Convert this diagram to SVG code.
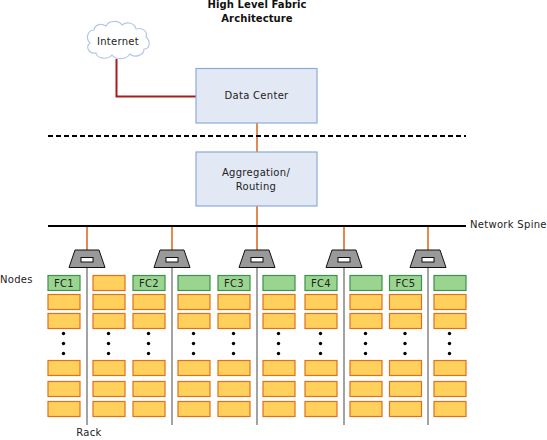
<svg xmlns="http://www.w3.org/2000/svg" xmlns:xlink="http://www.w3.org/1999/xlink" width="547" height="440" viewBox="0 0 547 440">
<style>
text{font-family:"DejaVu Sans",Verdana,sans-serif;font-size:10px;letter-spacing:.3px;fill:#222;text-anchor:middle}
.t{font-weight:bold;fill:#111;letter-spacing:.1px}
.l{text-anchor:start}
.box{fill:#e2e9f5;stroke:#8eaadb;stroke-width:1.2}
.or{fill:#ffd05c;stroke:#e0701c;stroke-width:1.2}
.gr{fill:#9ad58f;stroke:#3f8f4f;stroke-width:1.2}
.c{fill:none;stroke:#d8641a;stroke-width:1.5}
.rack{fill:none;stroke:#8c8c8c;stroke-width:1.6}
.sw{fill:#999;stroke:#111;stroke-width:1}
.win{fill:#fff;stroke:#111;stroke-width:1}
.d{fill:#000}
</style>
<defs>
<g id="stack">
<rect class="or" x="0" y="19" width="32" height="15"/>
<rect class="or" x="0" y="38" width="32" height="15"/>
<circle class="d" cx="15.5" cy="58" r="1.7"/>
<circle class="d" cx="15.5" cy="68" r="1.7"/>
<circle class="d" cx="15.5" cy="78" r="1.7"/>
<rect class="or" x="0" y="85" width="32" height="15"/>
<rect class="or" x="0" y="106" width="32" height="15"/>
<rect class="or" x="0" y="126" width="32" height="15"/>
</g>
<g id="switch">
<path class="sw" d="M-12 250H12L18 267.5H-18Z"/>
<rect class="win" x="-6" y="257.5" width="12" height="4.5"/>
</g>
</defs>
<text class="t" x="257" y="8">High Level Fabric</text>
<text class="t" x="257" y="22">Architecture</text>
<g id="connectors">
<path d="M116.5 59V96.5H196" fill="none" stroke="#a81c1c" stroke-width="2"/>
<path class="c" d="M257 123V152M257 206V226M87 226V250M172 226V250M344 226V250M428 226V250M257 226V250"/>
<path d="M48 136H466" fill="none" stroke="#000" stroke-width="2" stroke-dasharray="5 3"/>
<path d="M48 226H466" fill="none" stroke="#000" stroke-width="2"/>
<path class="rack" d="M87 267V425M172 267V425M257 267V425M344 267V425M428 267V425"/>
</g>
<g id="internet">
<path d="M94 30C95 24 102 23 106 26C109 20 119 20 122 25C127 21 135 23 136 29C143 27 148 32 146 37C151 41 150 49 144 49C144 56 134 58 130 54C126 60 116 60 112 55C108 60 97 59 96 53C89 54 85 47 90 43C85 38 88 30 94 30Z" fill="#fff" stroke="#b4c7e7" stroke-width="1.2"/>
<text x="118" y="45">Internet</text>
</g>
<g id="data-center"><rect class="box" x="196" y="68.5" width="121" height="54.5"/><text x="256.500" y="98.500">Data Center</text></g>
<g id="aggregation"><rect class="box" x="196" y="152" width="121" height="54"/><text x="256" y="176">Aggregation/</text><text x="256" y="189.500">Routing</text></g>
<g id="switches">
<use xlink:href="#switch" x="87"/><use xlink:href="#switch" x="172"/><use xlink:href="#switch" x="257"/><use xlink:href="#switch" x="344"/><use xlink:href="#switch" x="428"/>
</g>
<g id="rack1">
<rect class="gr" x="48" y="275.500" width="32" height="15"/><text x="64" y="287">FC1</text><use xlink:href="#stack" x="48" y="275.500"/>
<rect class="or" x="93" y="275.500" width="32" height="15"/><use xlink:href="#stack" x="93" y="275.500"/>
</g>
<g id="rack2">
<rect class="gr" x="133" y="275.500" width="32" height="15"/><text x="149" y="287">FC2</text><use xlink:href="#stack" x="133" y="275.500"/>
<rect class="gr" x="178" y="275.500" width="32" height="15"/><use xlink:href="#stack" x="178" y="275.500"/>
</g>
<g id="rack3">
<rect class="gr" x="218" y="275.500" width="32" height="15"/><text x="234" y="287">FC3</text><use xlink:href="#stack" x="218" y="275.500"/>
<rect class="gr" x="263" y="275.500" width="32" height="15"/><use xlink:href="#stack" x="263" y="275.500"/>
</g>
<g id="rack4">
<rect class="gr" x="305" y="275.500" width="32" height="15"/><text x="321" y="287">FC4</text><use xlink:href="#stack" x="305" y="275.500"/>
<rect class="gr" x="350" y="275.500" width="32" height="15"/><use xlink:href="#stack" x="350" y="275.500"/>
</g>
<g id="rack5">
<rect class="gr" x="389.500" y="275.500" width="32" height="15"/><text x="405.500" y="287">FC5</text><use xlink:href="#stack" x="389.500" y="275.500"/>
<rect class="gr" x="434" y="275.500" width="32" height="15"/><use xlink:href="#stack" x="434" y="275.500"/>
</g>
<text class="l" x="0" y="283">Nodes</text>
<text x="89" y="436">Rack</text>
<text class="l" x="470" y="228">Network Spine</text>
</svg>
